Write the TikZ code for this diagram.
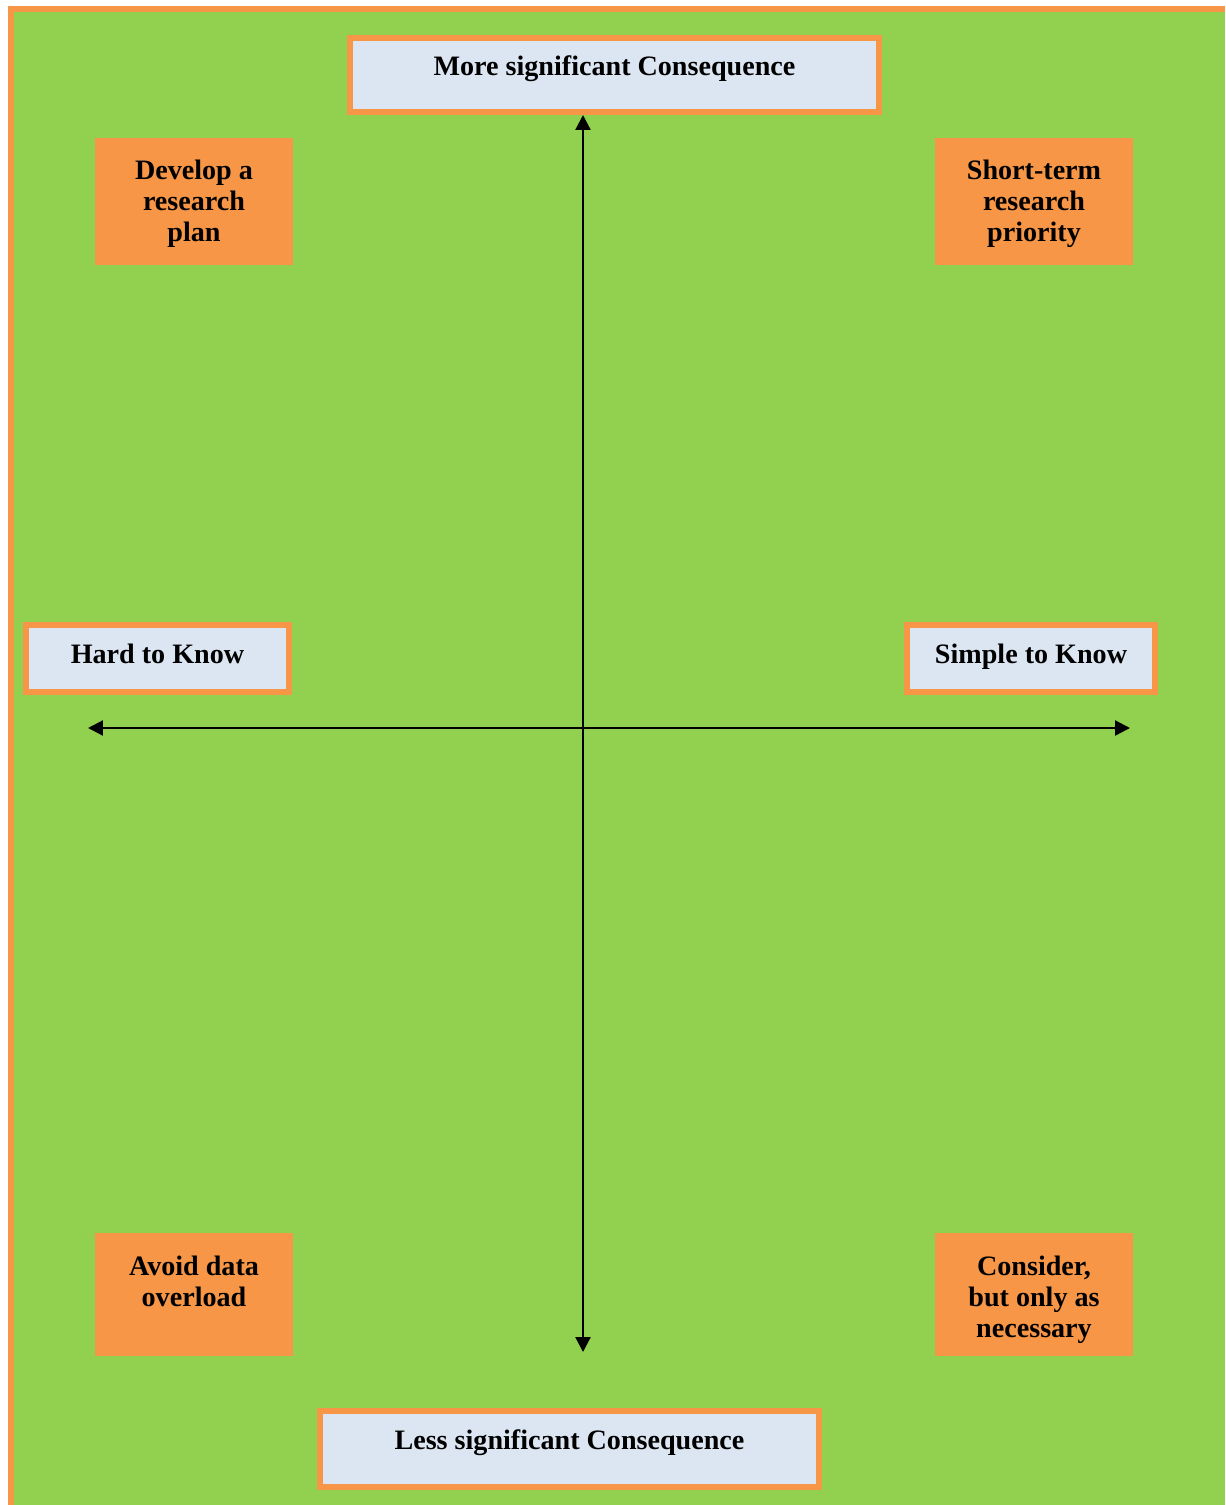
\documentclass[tikz,border=0pt]{standalone}
\usepackage{xcolor}
\usepackage{fontspec}
\setmainfont{Liberation Serif}
\usepackage{tikz}
\usetikzlibrary{positioning, arrows.meta}
\definecolor{fieldgreen}{RGB}{146,208,80}
\definecolor{tagorange}{RGB}{247,150,70}
\definecolor{axisblue}{RGB}{220,230,242}
\tikzset{
    axisbox/.style={
        draw = tagorange, line width = 0.12cm,
        fill = axisblue,
        inner sep = 0pt,
        text height = 0.2cm, text depth = 0.2cm,
        font = \bfseries\fontsize{16}{17.6}\selectfont
    },
    sidebox/.style={
        axisbox,
        minimum height = 1.34cm,
        text height = 0.29cm, text depth = 0.11cm
    },
    quadbox/.style={
        fill = tagorange, inner sep = 0pt,
        minimum width = 3.96cm
    },
    quadtext/.style={
        align = center, inner sep = 0pt,
        font = \bfseries\fontsize{16}{17.6}\selectfont
    },
    axis/.style = {{Triangle[length=0.3cm,width=0.3cm]}-{Triangle[length=0.3cm,width=0.3cm]}, line width=0.045cm}
}

\begin{document}
\begin{tikzpicture}[x=0.02cm, y=-0.02cm]

    \useasboundingbox (0,0) rectangle (1225,1505);

    % background frame
    \fill[tagorange] (8,6) rectangle (1225,1505);
    \fill[fieldgreen] (14,12) rectangle (1225,1505);

    % axis labels
    \node[axisbox, minimum width = 10.58cm, minimum height = 1.48cm] (more) at (614.5,75) {More significant Consequence};
    \node[axisbox, minimum width = 9.98cm, minimum height = 1.52cm] (less) at (569.5,1449) {Less significant Consequence};
    \node[sidebox, minimum width = 5.26cm] (hard) at (157.5,658.5) {Hard to Know};
    \node[sidebox, minimum width = 4.96cm] (simple) at (1031,658.5) {Simple to Know};

    % quadrant boxes
    \node[quadbox, minimum height = 2.54cm] (plan) at (194,201.5) {};
    \node[quadtext, below = 0.44cm of plan.north] (plantext) {Develop a\\research\\plan};

    \node[quadbox, minimum height = 2.54cm] (priority) at (1034,201.5) {};
    \node[quadtext, below = 0.44cm of priority.north] (prioritytext) {Short-term\\research\\priority};

    \node[quadbox, minimum height = 2.46cm] (avoid) at (194,1294.5) {};
    \node[quadtext, below = 0.46cm of avoid.north] (avoidtext) {Avoid data\\overload};

    \node[quadbox, minimum height = 2.46cm] (consider) at (1034,1294.5) {};
    \node[quadtext, below = 0.46cm of consider.north] (considertext) {Consider,\\but only as\\necessary};

    % axes
    \coordinate (lowtip) at (583,1352);
    \coordinate (lefttip) at (88,728);
    \coordinate (righttip) at (1130,728);
    \draw[axis] (more.south -| lowtip) -- (lowtip);
    \draw[axis] (lefttip) -- (righttip);

\end{tikzpicture}
\end{document}
